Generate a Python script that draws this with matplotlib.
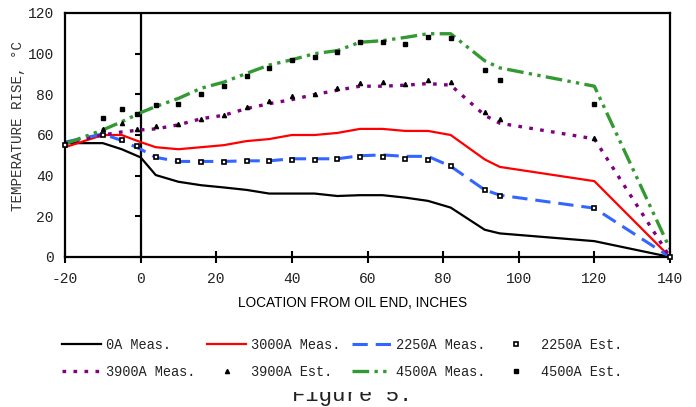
import matplotlib
matplotlib.use("Agg")
import matplotlib.pyplot as plt
from matplotlib.lines import TICKLEFT
from matplotlib.patches import Rectangle
import numpy as np

# ---------------- data ----------------
x_meas = [-20, -10, -5, 0, 4, 10, 16, 22, 28, 34, 40, 46, 52, 58, 64, 70, 76, 82, 91, 95, 120, 140]
meas_0A = [56, 56, 53, 49, 40.3, 37, 35.3, 34.2, 33, 31.2, 31.2, 31.2, 30, 30.4, 30.4, 29.2, 27.6, 24.3, 13.4, 11.6, 7.8, 0]
meas_3000A = [54, 60, 60, 56.5, 54, 53, 54, 55, 57, 58, 60, 60, 61, 63, 63, 62, 62, 60, 48, 44.3, 37.3, 0]
meas_2250A = [56.5, 60.5, 57.3, 53, 49, 47, 47, 47, 47.3, 47.3, 48.3, 48.3, 48.3, 49.8, 50.2, 49.5, 49.5, 44.6, 33, 30.4, 24, 0]
meas_3900A = [56, 60, 61.5, 62.5, 63, 65, 68, 69.7, 73, 75.4, 77.4, 79.9, 82, 84, 84, 84.5, 85.3, 84.5, 69.7, 65.8, 58.1, 0]
meas_4500A = [55.6, 62.5, 66.5, 71, 74, 78, 83, 86, 90.3, 94.4, 97, 100, 101.5, 105.6, 106.4, 108, 109.8, 109.8, 96.5, 93, 84, 4]

x_est_2250 = [-20, -10, -5, -1, 4, 10, 16, 22, 28, 34, 40, 46, 52, 58, 64, 70, 76, 82, 91, 95, 120, 140]
est_2250A = [55, 60, 57.3, 54.5, 49, 47, 46.5, 46.5, 47, 47, 47.7, 47.7, 48.2, 49, 49, 48.2, 47.7, 44.6, 33, 30, 24.3, 0]
x_est = [-10, -5, -1, 4, 10, 16, 22, 28, 34, 40, 46, 52, 58, 64, 70, 76, 82, 91, 95, 120]
est_3900A = [63, 66, 63, 64.2, 65.2, 68, 70, 73.8, 76.6, 79.2, 80.4, 82.9, 85.6, 86.1, 85, 87, 86.1, 71.3, 67.7, 58.4]
est_4500A = [68.3, 73, 70.5, 74.6, 75.4, 80.4, 84.2, 89.1, 93.1, 96.9, 98.2, 101, 105.6, 105.6, 104.8, 108.4, 107.9, 91.9, 87, 75.4]

x_ticks = [-20, 0, 20, 40, 60, 80, 100, 120, 140]
y_ticks = [0, 20, 40, 60, 80, 100, 120]
x_label = "LOCATION FROM OIL END, INCHES"
y_label = "TEMPERATURE RISE, \u00b0C"
caption = "Figure 5."

# ---------------- figure ----------------
W, H = 696, 407
fig = plt.figure(figsize=(W / 100, H / 100), dpi=100)
ax = fig.add_axes([65 / W, 1 - 257 / H, (670 - 65) / W, (257 - 13) / H])

mono = "Liberation Mono"
txtc = "#222222"

l0, = ax.plot(x_meas, meas_0A, color="black", lw=1.6, label="0A Meas.")
l3000, = ax.plot(x_meas, meas_3000A, color="#ff0000", lw=1.6, label="3000A Meas.")
l2250, = ax.plot(x_meas, meas_2250A, color="#3366ff", lw=2.2, ls=(0, (5, 2.6)), label="2250A Meas.")
l3900, = ax.plot(x_meas, meas_3900A, color="#800080", lw=2.4, ls=(0, (1.1, 2.2)), label="3900A Meas.")
l4500, = ax.plot(x_meas, meas_4500A, color="#339933", lw=2.4, ls=(0, (5, 1.6, 1.0, 1.6, 1.0, 1.6)), label="4500A Meas.")

e2250, = ax.plot(x_est_2250, est_2250A, ls="none", marker="s", ms=3.4, mfc="white", mec="black", mew=1.2,
                 label="2250A Est.", clip_on=False, zorder=5)
e3900, = ax.plot(x_est, est_3900A, ls="none", marker="^", ms=3.0, color="black",
                 label="3900A Est.", zorder=5)
e4500, = ax.plot(x_est, est_4500A, ls="none", marker="s", ms=2.7, color="black",
                 label="4500A Est.", zorder=5)

ax.set_xlim(-20, 140)
ax.set_ylim(0, 120)
ax.set_xticks(x_ticks)
ax.set_yticks(y_ticks)
ax.set_xticklabels([str(v) for v in x_ticks], fontfamily=mono, fontsize=10.5, color=txtc)
ax.set_yticklabels([str(v) for v in y_ticks], fontfamily=mono, fontsize=10.5, color=txtc)
ax.tick_params(axis="x", direction="inout", length=8, width=1.5, pad=7)
ax.tick_params(axis="y", length=0, pad=8)
for s in ax.spines.values():
    s.set_linewidth(1.6)

# vertical reference line at x = 0 carrying the y ticks
ax.axvline(0, color="black", lw=1.6, zorder=1)
ax.plot(np.zeros(len(y_ticks) - 1), y_ticks[:-1], ls="none", marker=TICKLEFT, ms=4, mew=1.5,
        color="black", clip_on=False)

fig.text(353 / W, 1 - 303 / H, x_label, ha="center", va="center",
         fontfamily="Liberation Sans", fontsize=9.85, color="black")
fig.text(18 / W, 1 - 126 / H, y_label, rotation=90, ha="center", va="center",
         fontfamily=mono, fontsize=10.3, color="#333333")

# caption (top partly covered, as in the reference)
fig.text(352 / W, 1 - 401 / H, caption, ha="center", va="baseline",
         fontfamily=mono, fontsize=16, color=txtc, zorder=3)
fig.patches.append(Rectangle((0, 1 - 392 / H), 1, (392 - 318) / H, transform=fig.transFigure,
                             facecolor="white", edgecolor="none", zorder=4))

handles = [l0, l3900, l3000, e3900, l2250, l4500, e2250, e4500]
leg = fig.legend(handles=handles, loc="upper left", bbox_to_anchor=(62 / W, 1 - 338 / H),
                 ncol=4, frameon=False, prop={"family": mono, "size": 9.8},
                 handlelength=2.9, handletextpad=0.36, columnspacing=0.82,
                 labelspacing=0.95, borderpad=0, borderaxespad=0, markerscale=1.0)
for t in leg.get_texts():
    t.set_color(txtc)
leg.set_zorder(5)

fig.savefig("out.png", dpi=100)
